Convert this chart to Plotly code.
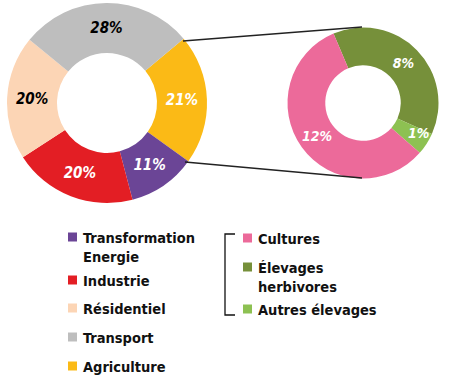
import plotly.graph_objects as go

W, H = 450, 378

# Left donut (total emissions)
main_labels = ["Agriculture", "Transformation Energie", "Industrie", "Résidentiel", "Transport"]
main_values = [21, 11, 20, 20, 28]
main_colors = ["#FBBA16", "#6B4596", "#E31E24", "#FCD5B5", "#BEBEBE"]
main_text_colors = ["white", "white", "white", "black", "black"]

# Right donut (agriculture breakdown)
agri_labels = ["Élevages herbivores", "Autres élevages", "Cultures"]
agri_values = [8, 1, 12]
agri_colors = ["#76903A", "#8DC152", "#EC6A9A"]

# Legend order
legend_left = ["Transformation<br>Energie", "Industrie", "Résidentiel", "Transport", "Agriculture"]
legend_left_colors = ["#6B4596", "#E31E24", "#FCD5B5", "#BEBEBE", "#FBBA16"]
legend_right = ["Cultures", "Élevages<br>herbivores", "Autres élevages"]
legend_right_colors = ["#EC6A9A", "#76903A", "#8DC152"]

FONT = "DejaVu Sans Condensed"

def px(x):
    return x / W

def py(y):
    return 1 - y / H

fig = go.Figure()

fig.add_trace(go.Pie(
    labels=main_labels, values=main_values, hole=0.5, sort=False,
    direction="clockwise", rotation=50,
    marker=dict(colors=main_colors, line=dict(width=0)),
    text=[f"{v}%" for v in main_values], textinfo="text",
    textposition="inside", insidetextorientation="horizontal",
    textfont=dict(family=FONT, size=15, color=main_text_colors, weight="bold", style="italic"),
    domain=dict(x=[px(7), px(207)], y=[py(203), py(3)]),
    showlegend=False, hoverinfo="label+percent",
))

agri_text = [f"{v}%" if v > 2 else "" for v in agri_values]
fig.add_trace(go.Pie(
    labels=agri_labels, values=agri_values, hole=0.5, sort=False,
    direction="clockwise", rotation=-23,
    marker=dict(colors=agri_colors, line=dict(width=0)),
    text=agri_text, textinfo="text",
    textposition="inside", insidetextorientation="horizontal",
    textfont=dict(family=FONT, size=14, color="white", weight="bold", style="italic"),
    domain=dict(x=[px(287.5), px(438.5)], y=[py(178.5), py(27.5)]),
    showlegend=False, hoverinfo="label",
))

shapes = []
# connector lines
shapes.append(dict(type="line", xref="paper", yref="paper",
                   x0=px(183), y0=py(41), x1=px(362), y1=py(27),
                   line=dict(color="#222222", width=1.3)))
shapes.append(dict(type="line", xref="paper", yref="paper",
                   x0=px(185), y0=py(162), x1=px(362), y1=py(178),
                   line=dict(color="#222222", width=1.3)))

annotations = []
# small-slice label (too small to sit inside its slice)
for v in agri_values:
    if v <= 2:
        annotations.append(dict(xref="paper", yref="paper", x=px(431), y=py(133),
                                text=f"{v}%", showarrow=False,
                                font=dict(family=FONT, size=14, color="white",
                                          weight="bold", style="italic")))

# left legend
left_rows = [237, 280, 308, 337, 366]
for lab, col, yc in zip(legend_left, legend_left_colors, left_rows):
    shapes.append(dict(type="rect", xref="paper", yref="paper",
                       x0=px(68), x1=px(77), y0=py(yc + 4.5), y1=py(yc - 4.5),
                       fillcolor=col, line=dict(width=0)))
    annotations.append(dict(xref="paper", yref="paper", x=px(81), y=py(yc - 9.5),
                            xanchor="left", yanchor="top", align="left",
                            text=lab, showarrow=False,
                            font=dict(family=FONT, size=14.5, color="#111111", weight="bold")))

# bracket
shapes.append(dict(type="path", xref="paper", yref="paper",
                   path=f"M {px(235)} {py(234)} L {px(225)} {py(234)} L {px(225)} {py(315)} L {px(235)} {py(315)}",
                   line=dict(color="#111111", width=1.3)))

right_rows = [238, 267, 309]
for lab, col, yc in zip(legend_right, legend_right_colors, right_rows):
    shapes.append(dict(type="rect", xref="paper", yref="paper",
                       x0=px(243), x1=px(252), y0=py(yc + 4.5), y1=py(yc - 4.5),
                       fillcolor=col, line=dict(width=0)))
    annotations.append(dict(xref="paper", yref="paper", x=px(256), y=py(yc - 9.5),
                            xanchor="left", yanchor="top", align="left",
                            text=lab, showarrow=False,
                            font=dict(family=FONT, size=14.5, color="#111111", weight="bold")))

fig.update_layout(
    width=W, height=H, margin=dict(l=0, r=0, t=0, b=0),
    paper_bgcolor="white", plot_bgcolor="white",
    shapes=shapes, annotations=annotations,
)

fig.write_html("out.html", config={"displayModeBar": False},
               post_script="document.body.style.margin='0px';document.body.style.overflow='hidden';")
